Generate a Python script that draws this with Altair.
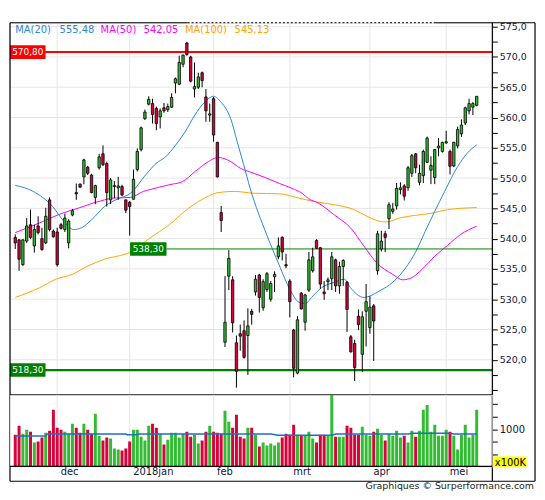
import altair as alt
import pandas as pd

# ---------------- data ----------------
opens = [540.2, 539.8, 535.7, 539.6, 542.3, 538.8, 542.1, 540.0, 539.3, 546.4,
         541.25, 541.1, 542.3, 541.5, 539.3, 543.9, 547.6, 549.0, 550.2, 551.8,
         550.5, 546.8, 551.7, 554.0, 552.4, 546.4, 548.6, 548.4, 548.6, 546.4,
         546.0, 546.5, 551.4, 554.7, 559.8, 562.2, 562.3, 561.5, 560.1, 561.6,
         561.3, 561.7, 565.7, 565.5, 568.8, 572.3, 570.0, 564.7, 565.0, 567.4,
         563.4, 560.4, 563.1, 555.9, 544.3, 522.9, 533.8, 533.2, 522.8, 524.3,
         524.8, 524.0, 528.0, 531.2, 534.0, 528.6, 531.6, 530.0, 533.7, 537.0,
         540.2, 535.7, 533.0, 524.9, 517.8, 531.0, 526.2, 531.5, 534.7, 539.7,
         538.5, 531.2, 532.9, 533.4, 536.5, 532.2, 535.4, 532.8, 523.8, 522.7,
         527.2, 520.9, 528.0, 525.3, 528.9, 534.7, 538.3, 540.8, 543.3, 544.5,
         545.4, 548.1, 548.7, 548.4, 550.8, 554.0, 549.3, 550.4, 552.6, 551.3,
         550.1, 555.0, 554.4, 555.8, 554.4, 552.0, 555.3, 557.3, 559.1, 561.1,
         561.7, 562.0]
highs = [540.7, 539.9, 539.9, 543.4, 544.8, 542.3, 543.7, 541.8, 545.1, 546.8,
         541.5, 541.8, 542.6, 544.1, 543.2, 544.9, 549.1, 549.1, 553.2, 552.0,
         550.7, 548.9, 554.0, 555.4, 552.7, 550.0, 549.5, 550.2, 548.9, 546.5,
         546.2, 551.4, 554.9, 558.5, 561.3, 563.5, 563.1, 561.8, 561.5, 562.4,
         562.3, 564.0, 566.6, 570.2, 570.4, 572.5, 570.2, 569.1, 567.4, 567.6,
         564.7, 562.3, 563.4, 556.0, 545.4, 533.8, 538.1, 533.8, 524.0, 525.8,
         526.5, 528.5, 528.4, 534.0, 534.2, 533.3, 534.5, 533.0, 534.6, 540.2,
         540.4, 537.5, 533.3, 525.1, 527.2, 531.2, 530.9, 537.8, 538.5, 539.9,
         538.6, 533.0, 533.6, 537.8, 536.7, 536.2, 536.6, 533.0, 524.1, 523.3,
         528.3, 528.0, 532.5, 530.5, 529.2, 541.3, 541.3, 541.3, 546.0, 545.9,
         549.2, 549.3, 549.0, 552.0, 554.0, 554.1, 552.2, 554.7, 556.85, 553.6,
         554.8, 556.6, 556.0, 557.8, 554.7, 556.0, 558.5, 559.7, 561.8, 563.1,
         562.55, 563.5]
lows = [538.3, 534.7, 535.5, 539.3, 539.9, 537.7, 540.7, 538.0, 539.1, 541.2,
        540.2, 535.4, 541.5, 541.1, 538.4, 543.7, 546.4, 548.4, 549.0, 550.5,
        547.5, 545.7, 551.4, 552.0, 545.3, 545.7, 546.7, 546.4, 547.0, 544.2,
        540.5, 546.5, 551.1, 554.4, 559.6, 562.0, 559.0, 557.9, 558.2, 560.8,
        560.9, 561.6, 564.0, 565.4, 568.3, 570.2, 565.8, 563.3, 564.7, 565.0,
        559.3, 559.3, 556.0, 550.1, 541.1, 522.1, 531.5, 524.5, 515.4, 521.5,
        520.2, 517.5, 525.8, 530.6, 527.8, 528.1, 531.2, 529.6, 531.2, 536.6,
        536.4, 535.1, 527.0, 517.1, 517.6, 528.3, 524.8, 531.2, 534.4, 538.3,
        531.7, 529.9, 531.5, 531.5, 531.2, 530.9, 532.2, 524.6, 521.2, 516.5,
        524.9, 518.0, 522.2, 524.3, 519.8, 534.05, 537.9, 537.8, 541.6, 544.1,
        544.8, 547.3, 546.3, 547.9, 550.2, 550.8, 548.8, 549.2, 552.5, 549.0,
        549.0, 553.6, 554.2, 555.65, 550.6, 551.8, 554.9, 556.8, 558.75, 560.5,
        560.4, 561.85]
closes = [539.3, 536.6, 539.8, 542.1, 540.2, 541.5, 541.0, 538.2, 543.7, 541.5,
          540.3, 535.7, 541.7, 543.4, 542.9, 544.6, 547.4, 548.5, 553.0, 550.8,
          547.6, 548.75, 553.5, 552.2, 547.6, 549.7, 548.75, 548.7, 547.2, 544.7,
          545.3, 549.8, 554.4, 558.3, 560.9, 563.0, 560.5, 559.0, 561.1, 561.1,
          561.8, 563.3, 566.4, 569.1, 570.3, 570.4, 566.0, 565.1, 566.7, 566.1,
          561.1, 560.6, 557.1, 550.2, 543.0, 526.2, 536.75, 526.1, 518.1, 523.9,
          520.4, 525.6, 527.5, 533.3, 530.3, 532.9, 534.2, 532.6, 534.1, 538.8,
          537.8, 535.5, 529.6, 518.6, 526.6, 528.4, 530.7, 536.5, 537.0, 538.4,
          532.5, 530.9, 533.2, 537.0, 532.2, 535.4, 536.4, 528.3, 521.3, 518.7,
          525.8, 527.1, 529.6, 528.7, 526.4, 540.8, 539.6, 540.2, 545.6, 544.9,
          548.3, 548.4, 547.0, 551.7, 553.7, 551.7, 550.8, 554.4, 556.6, 552.1,
          554.7, 555.3, 555.9, 556.0, 551.95, 555.9, 558.0, 558.75, 561.6, 562.3,
          562.3, 563.5]
volumes = [894, 1071, 913, 992, 953, 736, 756, 835, 933, 972,
           1386, 1032, 992, 953, 913, 1110, 1032, 933, 1110, 992,
           913, 1307, 874, 776, 835, 815, 618, 598, 579, 618,
           756, 992, 992, 854, 776, 1071, 1110, 1032, 913, 697,
           795, 933, 933, 835, 913, 953, 854, 894, 717, 776,
           953, 1071, 953, 933, 913, 1366, 1150, 1032, 1288, 854,
           815, 1032, 1032, 894, 657, 736, 677, 717, 677, 736,
           835, 913, 894, 1090, 894, 874, 874, 953, 815, 736,
           894, 894, 874, 1681, 854, 854, 854, 1071, 1032, 894,
           894, 1051, 894, 874, 953, 1012, 894, 776, 913, 874,
           972, 835, 874, 736, 972, 854, 972, 1386, 1484, 953,
           1090, 874, 874, 992, 953, 874, 598, 894, 1090, 835,
           894, 1386]

ma20_i = [0, 4.7, 9.8, 12.7, 15.3, 17.4, 20.0, 23.4, 26.7, 30.2, 34.3, 36.9, 39.4, 42.0,
          44.5, 47.1, 49.6, 52.0, 54.0, 56.5, 58.2, 59.9, 61.6, 65.9, 69.1, 72.2, 74.4,
          76.1, 77.7, 80.3, 83.7, 86.3, 87.9, 91.4, 95.6, 99.0, 102.4, 104.9, 107.5,
          110.0, 112.6, 116.0, 118.5, 121]
ma20_v = [548.8, 547.8, 545.3, 542.9, 541.5, 541.8, 543.1, 545.3, 546.5, 547.5, 550.6,
          552.4, 553.5, 555.4, 557.6, 560.4, 562.5, 563.5, 562.5, 559.8, 556.0, 552.2,
          548.3, 540.7, 535.8, 531.4, 529.5, 529.3, 530.3, 531.9, 532.8, 533.3, 531.9,
          530.3, 531.4, 532.8, 535.2, 537.7, 541.2, 544.5, 547.8, 551.9, 554.1, 555.48]
ma50_i = [0, 6.4, 11.5, 16.6, 22.5, 25.9, 30.2, 33.6, 35.3, 40.4, 43.8, 47.2, 50.6, 53.1,
          55.7, 59.1, 62.5, 65.9, 69.3, 72.6, 75.2, 76.9, 79.4, 83.7, 87.9, 91.4, 94.8,
          99.0, 101.6, 104.1, 106.7, 110.0, 113.4, 116.8, 121]
ma50_v = [541.0, 542.6, 544.0, 545.05, 546.25, 546.7, 546.8, 547.8, 548.1, 548.9, 549.4,
          551.1, 552.7, 553.4, 553.0, 551.6, 550.8, 550.0, 549.1, 548.3, 547.5, 546.6,
          545.9, 543.9, 541.8, 538.8, 536.0, 534.1, 533.2, 533.6, 534.95, 537.1, 538.9,
          540.7, 542.05]
ma100_i = [0, 6.4, 10.6, 14.9, 19.1, 23.4, 30.2, 35.3, 40.4, 45.5, 50.6, 53.1, 57.4,
           62.5, 69.3, 74.4, 77.7, 83.7, 88.8, 92.2, 94.8, 97.3, 100.7, 104.9, 109.2,
           113.4, 121]
ma100_v = [530.3, 531.9, 533.3, 534.1, 535.5, 536.6, 537.8, 540.1, 542.3, 545.05, 547.0,
           547.6, 547.8, 547.5, 547.4, 546.7, 546.2, 545.6, 544.8, 543.7, 543.0, 542.75,
           543.4, 543.85, 544.2, 544.8, 545.13]
volma_i = [0, 8, 8.3, 29, 29.3, 32, 32.3, 67, 69, 83, 84, 103, 104, 114, 115, 121]
volma_v = [868, 868, 907, 907, 894, 894, 907, 907, 881, 881, 907, 907, 920, 920, 907, 907]

ma_names = ["MA(20)", "MA(50)", "MA(100)"]
ma_last = [555.48, 542.05, 545.13]

month_idx = [11, 30, 52, 72, 93, 113]
month_lbl = ["dec", "2018jan", "feb", "mrt", "apr", "mei"]

levels = [570.80, 538.30, 518.30]
price_grid = [520, 525, 530, 535, 540, 545, 550, 555, 560, 565, 570, 575]
price_ticks = [515 + 2.5 * k for k in range(25)]
vol_ticks = [500, 750, 1000, 1250, 1500]

# ---------------- styles ----------------
GREEN = "#33bb33"
RED = "#d4053b"
BLUE = "#2a86d8"
MAG = "#ff00ff"
ORA = "#ffa500"
GRID = "#e6e6e6"
TXT = "#14143c"
FONT = "DejaVu Sans"
W, H, HV = 486, 375, 72
RX = 529

xs = alt.Scale(domain=[-0.08, 123.8], nice=False, zero=False)
ys = alt.Scale(domain=[514.2, 575.65], nice=False, zero=False)
vs = alt.Scale(domain=[264, 1683], nice=False, zero=False)
cs = alt.Scale(domain=["up", "down"], range=[GREEN, RED])

n = len(opens)
df = pd.DataFrame({"i": list(range(n)), "open": opens, "high": highs, "low": lows,
                   "close": closes, "vol": volumes})
df["dir"] = ["up" if c >= o else "down" for o, c in zip(opens, closes)]

one = pd.DataFrame({"k": [0]})


def prule(x=None, x2=None, y=None, y2=None, color="black", w=1.2, dash=None):
    enc = {}
    if x is not None:
        enc["x"] = alt.value(x)
    if x2 is not None:
        enc["x2"] = alt.value(x2)
    if y is not None:
        enc["y"] = alt.value(y)
    if y2 is not None:
        enc["y2"] = alt.value(y2)
    kw = dict(color=color, strokeWidth=w)
    if dash is not None:
        kw["strokeDash"] = dash
    return alt.Chart(one).mark_rule(**kw).encode(**enc)


def ptext(txt, x, y, color, size=10, align="left", baseline="alphabetic"):
    return alt.Chart(pd.DataFrame({"t": [txt]})).mark_text(
        align=align, baseline=baseline, fontSize=size, font=FONT, color=color
    ).encode(x=alt.value(x), y=alt.value(y), text="t:N")


label_expr_price = ("datum.value % 5 == 0 && datum.value >= 520 ? "
                    "replace(format(datum.value, '.1f'), '.', ',') : ''")
price_axis = alt.Axis(orient="right", values=price_ticks, labelExpr=label_expr_price,
                      grid=False, domain=False, ticks=True, tickSize=5, tickColor="black",
                      labelFontSize=9.5, labelColor=TXT, labelPadding=2, labelFont=FONT,
                      title=None)
top_x_axis = alt.Axis(labels=False, ticks=False, domain=False, grid=False, title=None)


def PX(f):
    return alt.X(f, scale=xs, axis=top_x_axis)


def PY(f):
    return alt.Y(f, scale=ys, axis=price_axis)


# ---------------- price panel ----------------
hgrid = alt.Chart(pd.DataFrame({"g": price_grid})).mark_rule(color=GRID, strokeWidth=1).encode(
    y=PY("g:Q"))
vgrid = alt.Chart(pd.DataFrame({"m": month_idx})).mark_rule(color=GRID, strokeWidth=1).encode(
    x=PX("m:Q"))


def ma_line(ii, vv, color):
    return alt.Chart(pd.DataFrame({"i": ii, "v": vv})).mark_line(
        color=color, strokeWidth=1, interpolate="monotone").encode(x=PX("i:Q"), y=PY("v:Q"))


ma100 = ma_line(ma100_i, ma100_v, ORA)
ma50 = ma_line(ma50_i, ma50_v, MAG)
ma20 = ma_line(ma20_i, ma20_v, BLUE)


def level_line(v, color, w, x0):
    return alt.Chart(pd.DataFrame({"lvl": [v]})).mark_rule(color=color, strokeWidth=w).encode(
        y=PY("lvl:Q"), x=alt.value(x0), x2=alt.value(W))


def level_box(v, color, x0, x1):
    d = pd.DataFrame({"lvl": [v], "lbl": [f"{v:.2f}".replace(".", ",")]})
    base = alt.Chart(d).transform_calculate(hi="datum.lvl + 1.12", lo="datum.lvl - 1.12")
    box = base.mark_rect(color=color).encode(
        x=alt.value(x0), x2=alt.value(x1), y=PY("hi:Q"), y2="lo:Q")
    txt = base.mark_text(color="white", align="center", baseline="middle", fontSize=9,
                         font=FONT).encode(x=alt.value((x0 + x1) / 2), y=PY("lvl:Q"),
                                           text="lbl:N")
    return box + txt


lv_red = level_line(levels[0], "#ff0000", 2, 0)
lv_mid = level_line(levels[1], "#008000", 1, 157.7)
lv_low = level_line(levels[2], "#008000", 2.2, 0)

wicks = alt.Chart(df).mark_rule(color="black", strokeWidth=1).encode(
    x=PX("i:Q"), y=PY("low:Q"), y2="high:Q")
bodies = alt.Chart(df).mark_bar(size=2.4, stroke="black", strokeWidth=0.8, clip=True).encode(
    x=PX("i:Q"), y=PY("open:Q"), y2="close:Q",
    color=alt.Color("dir:N", scale=cs, legend=None))

box_red = level_box(levels[0], "#ff0000", 0, 35.8)
box_mid = level_box(levels[1], "#008000", 121, 157.7)
box_low = level_box(levels[2], "#008000", 0, 35.8)

leg_cols = [BLUE, MAG, ORA]
leg_x = [(5.3, 50.0), (91.3, 134.7), (176.3, 226.3)]
legend_layers = []
for name, val, col, (xa, xb) in zip(ma_names, ma_last, leg_cols, leg_x):
    legend_layers.append(ptext(name, xa, 10.7, col))
    legend_layers.append(ptext(f"{val:.2f}".replace(".", ","), xb, 10.7, col))

frame_top = [
    prule(x=0, x2=179, y=0),
    prule(x=179, x2=429, y=0, w=1, dash=[2, 2]),
    prule(x=429, x2=RX, y=0),
    prule(x=0, y=0, y2=H + HV + 15),
    prule(x=W, y=0, y2=H + HV + 15),
    prule(x=RX, y=0, y2=H + HV + 15),
    prule(x=0, x2=W, y=H),
]

top = alt.layer(hgrid, vgrid, ma100, ma50, ma20, lv_red, lv_mid, lv_low, wicks, bodies,
                box_red, box_mid, box_low, *legend_layers, *frame_top).properties(
    width=W, height=H)

# ---------------- volume panel ----------------
lbl_expr_x = " : ".join(f"datum.value == {m} ? '{l}'" for m, l in zip(month_idx, month_lbl)) + " : ''"
x_axis = alt.Axis(values=month_idx, labelExpr=lbl_expr_x, ticks=False, domain=False, grid=False,
                  labelAlign="left", labelOffset=3, labelPadding=0, labelBaseline="top",
                  labelFontSize=10, labelColor=TXT, labelFont=FONT, title=None)
vol_axis = alt.Axis(orient="right", values=vol_ticks,
                    labelExpr="datum.value == 1000 ? '1000' : ''", grid=False, domain=False,
                    tickSize=5, tickColor="black", labelFontSize=10, labelColor=TXT,
                    labelPadding=2, labelFont=FONT, title=None)


def VX(f):
    return alt.X(f, scale=xs, axis=x_axis)


def VY(f):
    return alt.Y(f, scale=vs, axis=vol_axis)


vgrid2 = alt.Chart(pd.DataFrame({"m": month_idx})).mark_rule(color=GRID, strokeWidth=1).encode(
    x=VX("m:Q"))
vbars = alt.Chart(df).mark_bar(size=3, clip=True).encode(
    x=VX("i:Q"), y=VY("vol:Q"), y2=alt.datum(264),
    color=alt.Color("dir:N", scale=cs, legend=None))
vma = alt.Chart(pd.DataFrame({"i": volma_i, "v": volma_v})).mark_line(
    color="#1f6fc5", strokeWidth=1.5).encode(x=VX("i:Q"), y=VY("v:Q"))

unit_box = alt.Chart(one).mark_rect(color="#ffff00").encode(
    x=alt.value(487), x2=alt.value(520.5), y=alt.value(62), y2=alt.value(72.5))
unit_txt = ptext("x100K", 488.5, 71.3, "black")
footer = ptext("Graphiques \u00a9 Surperformance.com", RX - 1, 95, "#222222", size=9.5,
               align="right")

frame_bot = [
    prule(x=0, x2=W, y=HV),
    prule(x=0, x2=RX, y=HV + 15),
]

bottom = alt.layer(vgrid2, vbars, vma, unit_box, unit_txt, footer, *frame_bot).properties(
    width=W, height=HV)

chart = alt.vconcat(top, bottom, spacing=0, bounds="flush").resolve_scale(
    y="independent").properties(
    padding={"left": 0, "top": 11, "right": 0, "bottom": 0}
).configure_view(stroke="transparent", strokeWidth=0).configure(background="white")

chart.save("out.html", embed_options={"renderer": "svg", "actions": False})
